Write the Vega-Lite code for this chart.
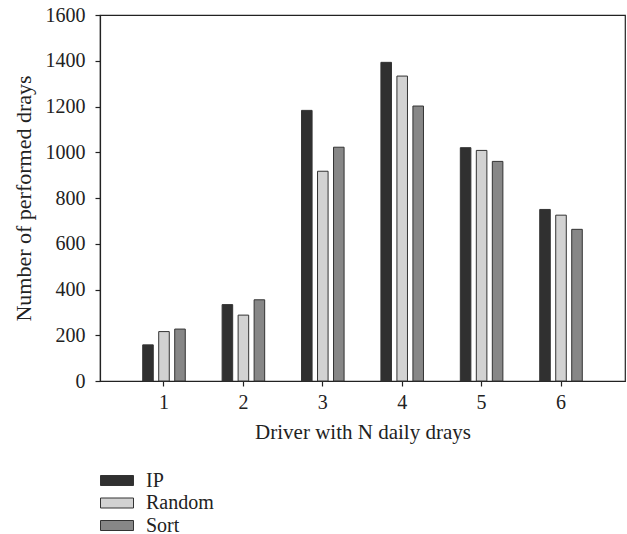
{
  "$schema": "https://vega.github.io/schema/vega-lite/v6.json",
  "width": 525,
  "height": 366,
  "autosize": {"type": "none"},
  "padding": {"left": 100, "top": 15, "right": 2, "bottom": 153},
  "background": "white",
  "config": {
    "font": "Liberation Serif",
    "view": {"stroke": "#222", "strokeWidth": 1.2},
    "axis": {"grid": false, "domainColor": "#222", "tickColor": "#222", "labelColor": "#222", "titleColor": "#222", "labelFont": "Liberation Serif", "titleFont": "Liberation Serif", "titleFontWeight": "normal", "tickSize": 5, "domainWidth": 1.2, "tickWidth": 1.2},
    "legend": {"labelFont": "Liberation Serif"}
  },
  "data": {
    "values": [
      {"n": "1", "method": "IP", "value": 158},
      {"n": "1", "method": "Random", "value": 216},
      {"n": "1", "method": "Sort", "value": 227},
      {"n": "2", "method": "IP", "value": 334},
      {"n": "2", "method": "Random", "value": 288},
      {"n": "2", "method": "Sort", "value": 355},
      {"n": "3", "method": "IP", "value": 1183},
      {"n": "3", "method": "Random", "value": 917},
      {"n": "3", "method": "Sort", "value": 1022},
      {"n": "4", "method": "IP", "value": 1393},
      {"n": "4", "method": "Random", "value": 1333},
      {"n": "4", "method": "Sort", "value": 1202},
      {"n": "5", "method": "IP", "value": 1020},
      {"n": "5", "method": "Random", "value": 1008},
      {"n": "5", "method": "Sort", "value": 960},
      {"n": "6", "method": "IP", "value": 750},
      {"n": "6", "method": "Random", "value": 725},
      {"n": "6", "method": "Sort", "value": 663}
    ]
  },
  "mark": {"type": "bar", "stroke": "#333", "strokeWidth": 1},
  "encoding": {
    "x": {
      "field": "n", "type": "ordinal",
      "scale": {"paddingInner": 0.2, "paddingOuter": 0.406},
      "axis": {"title": "Driver with N daily drays", "labelAngle": 0, "labelFont": "Liberation Serif", "labelFontSize": 20, "titleFontSize": 21, "labelPadding": 6, "titlePadding": 9}
    },
    "xOffset": {
      "field": "method", "type": "nominal",
      "scale": {"paddingInner": 0.34, "paddingOuter": 0.655}
    },
    "y": {
      "field": "value", "type": "quantitative",
      "scale": {"domain": [0, 1600], "nice": false},
      "axis": {"title": "Number of performed drays", "format": "d", "labelFont": "Liberation Serif", "values": [0, 200, 400, 600, 800, 1000, 1200, 1400, 1600], "labelFontSize": 20, "titleFontSize": 22, "labelPadding": 10, "titlePadding": 10}
    },
    "fill": {
      "field": "method", "type": "nominal",
      "scale": {"domain": ["IP", "Random", "Sort"], "range": ["#303030", "#d2d2d2", "#878787"]},
      "legend": {
        "title": null,
        "orient": "none",
        "legendX": 6.5,
        "legendY": 455,
        "direction": "vertical",
        "symbolType": "M-1.65,-0.5H1.65V0.5H-1.65Z",
        "symbolSize": 400,
        "symbolStrokeColor": "#333",
        "symbolStrokeWidth": 1,
        "symbolOpacity": 1,
        "labelFontSize": 20,
        "labelFont": "Liberation Serif",
        "labelColor": "#222",
        "labelOffset": 18.5,
        "rowPadding": 1.5,
        "padding": 0
      }
    }
  }
}
